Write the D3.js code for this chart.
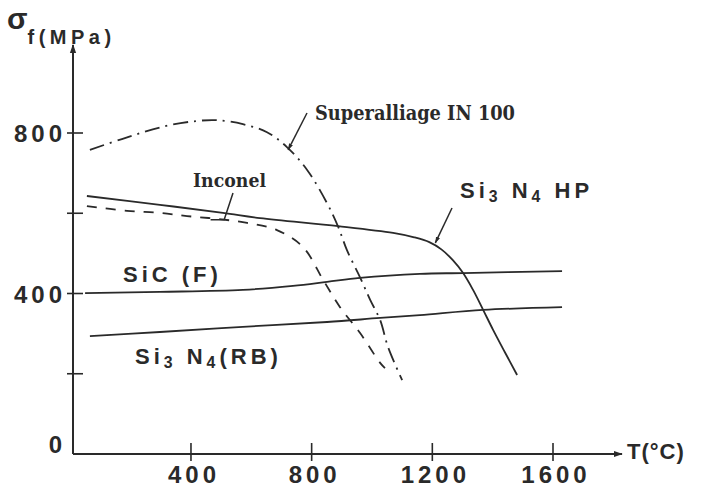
<!DOCTYPE html>
<html>
<head>
<meta charset="utf-8">
<script src="https://cdn.jsdelivr.net/npm/d3@7"></script>
<style>
    body { margin: 0; background: #fff; }
    svg { display: block; }
</style>
</head>
<body>
<div id="chart"></div>
<script>
// Données : [T (°C), σf (MPa)]
const superalliage = [[65, 758], [171, 785], [314, 817], [420, 830], [486, 832], [572, 822], [652, 802],
    [718, 765], [785, 708], [851, 625], [888, 566], [917, 508], [960, 441], [994, 384], [1027, 334],
    [1053, 267], [1100, 184]];
const inconel = [[55, 618], [188, 606], [297, 601], [387, 593], [486, 586], [586, 576], [685, 558],
    [771, 516], [838, 434], [894, 366], [960, 302], [1027, 227], [1043, 214]];
const si3n4HP = [[55, 643], [297, 621], [506, 601], [629, 588], [888, 568], [1070, 551], [1140, 540],
    [1190, 528], [1230, 510], [1268, 483], [1302, 451], [1335, 409], [1368, 360], [1401, 310],
    [1441, 253], [1481, 197]];
const sicF = [[49, 401], [297, 404], [572, 409], [738, 419], [851, 429], [960, 439], [1159, 449],
    [1302, 451], [1630, 456]];
const si3n4RB = [[65, 294], [297, 304], [572, 317], [851, 329], [1027, 339], [1159, 346], [1368, 359],
    [1630, 366]];

const tempTicks = [400, 800, 1200, 1600];
const stressTicks = [200, 400, 600, 800];
const stressLabels = [0, 400, 800];

const WIDTH = 704;
const HEIGHT = 488;
const INK = '#2a2a2a';
const NUM_FONT = "'Liberation Sans', Arial, sans-serif";
const SERIF_FONT = "'DejaVu Serif', 'Liberation Serif', serif";

const x = d3.scaleLinear().domain([0, 1600]).range([70.3, 553]);
const y = d3.scaleLinear().domain([0, 800]).range([454, 133]);
const AXIS_X = 73;

const svg = d3.select('#chart').append('svg')
    .attr('width', WIDTH)
    .attr('height', HEIGHT);

svg.append('rect').attr('width', WIDTH).attr('height', HEIGHT).attr('fill', '#fff');

// Flèches des axes et des repères
const defs = svg.append('defs');
defs.append('marker')
    .attr('id', 'axis-arrow')
    .attr('viewBox', '0 0 10 10')
    .attr('refX', 9).attr('refY', 5)
    .attr('markerWidth', 9).attr('markerHeight', 9)
    .attr('markerUnits', 'userSpaceOnUse')
    .attr('orient', 'auto')
    .append('path').attr('d', 'M0,1.5 L10,5 L0,8.5 Z').attr('fill', INK);
defs.append('marker')
    .attr('id', 'lead-arrow')
    .attr('viewBox', '0 0 10 10')
    .attr('refX', 9).attr('refY', 5)
    .attr('markerWidth', 7).attr('markerHeight', 7)
    .attr('markerUnits', 'userSpaceOnUse')
    .attr('orient', 'auto')
    .append('path').attr('d', 'M0,2 L10,5 L0,8 Z').attr('fill', INK);

// Axes
svg.append('line')
    .attr('x1', AXIS_X).attr('x2', AXIS_X)
    .attr('y1', y(0)).attr('y2', 45)
    .attr('stroke', INK).attr('stroke-width', 2)
    .attr('marker-end', 'url(#axis-arrow)');
svg.append('line')
    .attr('x1', AXIS_X).attr('x2', 622)
    .attr('y1', y(0)).attr('y2', y(0))
    .attr('stroke', INK).attr('stroke-width', 2)
    .attr('marker-end', 'url(#axis-arrow)');

// Graduations
svg.selectAll('.ytick')
    .data(stressTicks)
    .enter().append('line')
    .attr('x1', AXIS_X - 6).attr('x2', AXIS_X + 10)
    .attr('y1', d => y(d)).attr('y2', d => y(d))
    .attr('stroke', INK).attr('stroke-width', 1.6);
svg.selectAll('.xtick')
    .data(tempTicks)
    .enter().append('line')
    .attr('x1', d => x(d)).attr('x2', d => x(d))
    .attr('y1', y(0) - 11).attr('y2', y(0) + 7)
    .attr('stroke', INK).attr('stroke-width', 1.6);

svg.selectAll('.ylabel')
    .data(stressLabels)
    .enter().append('text')
    .attr('x', 66)
    .attr('y', d => d === 0 ? y(0) - 1 : y(d) + 9)
    .attr('text-anchor', 'end')
    .attr('font-family', NUM_FONT)
    .attr('font-weight', 'bold')
    .attr('font-size', 24)
    .attr('letter-spacing', 4)
    .attr('fill', INK)
    .text(d => d);

svg.selectAll('.xlabel')
    .data(tempTicks)
    .enter().append('text')
    .attr('x', d => x(d) + 3)
    .attr('y', 483)
    .attr('text-anchor', 'middle')
    .attr('font-family', NUM_FONT)
    .attr('font-weight', 'bold')
    .attr('font-size', 24)
    .attr('letter-spacing', 4)
    .attr('fill', INK)
    .text(d => d);

// Titres des axes
const yTitle = svg.append('text')
    .attr('x', 7).attr('y', 29)
    .attr('font-family', NUM_FONT)
    .attr('fill', INK);
yTitle.append('tspan').attr('font-size', 30).attr('font-weight', 'bold').text('σ');
yTitle.append('tspan').attr('font-size', 20).attr('font-weight', 'bold')
    .attr('dy', 15).attr('letter-spacing', 4.5).text('f(MPa)');

svg.append('text')
    .attr('x', 627).attr('y', 459)
    .attr('font-family', NUM_FONT)
    .attr('font-weight', 'bold')
    .attr('font-size', 22)
    .attr('letter-spacing', 1)
    .attr('fill', INK)
    .text('T(°C)');

// Courbes
const line = d3.line()
    .x(d => x(d[0]))
    .y(d => y(d[1]))
    .curve(d3.curveCatmullRom.alpha(0.5));

const series = [
    { data: sicF, dash: null },
    { data: si3n4RB, dash: null },
    { data: si3n4HP, dash: null },
    { data: inconel, dash: '10,9' },
    { data: superalliage, dash: '15,6,2,6' }
];

svg.selectAll('.curve')
    .data(series)
    .enter().append('path')
    .attr('d', d => line(d.data))
    .attr('fill', 'none')
    .attr('stroke', INK)
    .attr('stroke-width', 1.8)
    .attr('stroke-dasharray', d => d.dash);

// Légendes des courbes
function formula(xPos, yPos, parts, size) {
    const t = svg.append('text')
        .attr('x', xPos).attr('y', yPos)
        .attr('font-family', NUM_FONT)
        .attr('font-weight', 'bold')
        .attr('font-size', size)
        .attr('letter-spacing', 4)
        .attr('fill', INK);
    parts.forEach(p => {
        if (p.sub) {
            t.append('tspan').attr('font-size', size * 0.72).attr('dy', 4).text(p.text);
        } else {
            t.append('tspan').attr('dy', p.after ? -4 : 0).text(p.text);
        }
    });
    return t;
}

formula(460, 198, [
    { text: 'Si' }, { text: '3', sub: true }, { text: ' N', after: true }, { text: '4', sub: true },
    { text: '  HP', after: true }
], 22);
formula(123, 282, [{ text: 'SiC (F)' }], 22);
formula(135, 364, [
    { text: 'Si' }, { text: '3', sub: true }, { text: ' N', after: true }, { text: '4', sub: true },
    { text: '(RB)', after: true }
], 22);

svg.append('text')
    .attr('x', 315).attr('y', 120)
    .attr('font-family', SERIF_FONT)
    .attr('font-weight', 'bold')
    .attr('font-size', 20)
    .attr('textLength', 200)
    .attr('lengthAdjust', 'spacingAndGlyphs')
    .attr('fill', INK)
    .text('Superalliage IN 100');

svg.append('text')
    .attr('x', 193).attr('y', 187)
    .attr('font-family', SERIF_FONT)
    .attr('font-weight', 'bold')
    .attr('font-size', 19)
    .attr('textLength', 73)
    .attr('lengthAdjust', 'spacingAndGlyphs')
    .attr('fill', INK)
    .text('Inconel');

// Repères vers les courbes
svg.append('line')
    .attr('x1', 307).attr('y1', 113)
    .attr('x2', x(722)).attr('y2', y(758))
    .attr('stroke', INK).attr('stroke-width', 1.5)
    .attr('marker-end', 'url(#lead-arrow)');
svg.append('line')
    .attr('x1', 452).attr('y1', 208)
    .attr('x2', x(1210)).attr('y2', y(526))
    .attr('stroke', INK).attr('stroke-width', 1.5)
    .attr('marker-end', 'url(#lead-arrow)');
svg.append('path')
    .attr('d', `M233,193 L${x(510)},${y(584)} L${x(465)},${y(584)}`)
    .attr('fill', 'none')
    .attr('stroke', INK).attr('stroke-width', 1.5);
</script>
</body>
</html>
